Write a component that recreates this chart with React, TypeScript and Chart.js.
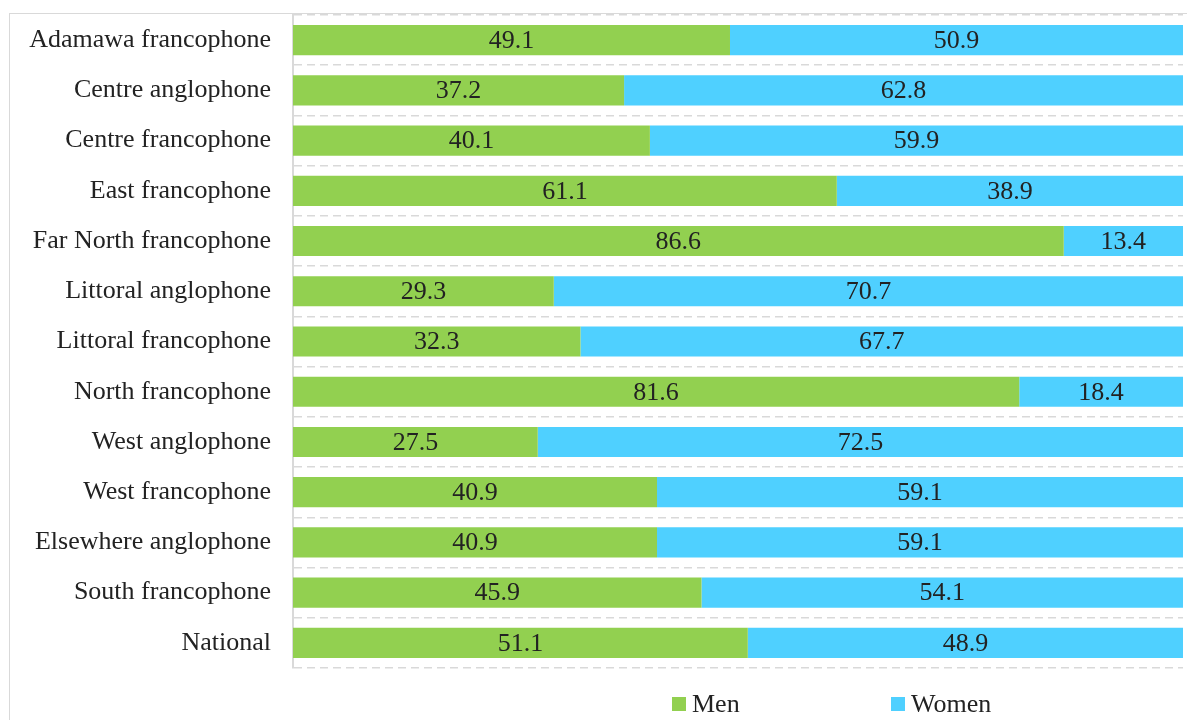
import React, { useEffect, useRef } from "react";
import { Chart, registerables } from "chart.js";

Chart.register(...registerables);

const categories = [
  "Adamawa francophone",
  "Centre anglophone",
  "Centre francophone",
  "East francophone",
  "Far North francophone",
  "Littoral anglophone",
  "Littoral francophone",
  "North francophone",
  "West anglophone",
  "West francophone",
  "Elsewhere anglophone",
  "South francophone",
  "National",
];

const menValues = [49.1, 37.2, 40.1, 61.1, 86.6, 29.3, 32.3, 81.6, 27.5, 40.9, 40.9, 45.9, 51.1];
const womenValues = [50.9, 62.8, 59.9, 38.9, 13.4, 70.7, 67.7, 18.4, 72.5, 59.1, 59.1, 54.1, 48.9];

const seriesNames = ["Men", "Women"];
const seriesColors = ["#92D050", "#4FD0FF"];

const FONT = '"Liberation Serif", "Times New Roman", serif';
const TEXT_COLOR = "#222222";

const valueLabelsPlugin = {
  id: "valueLabels",
  afterDatasetsDraw(chart: any) {
    const ctx = chart.ctx;
    ctx.save();
    ctx.font = `26px ${FONT}`;
    ctx.fillStyle = TEXT_COLOR;
    ctx.textAlign = "center";
    ctx.textBaseline = "middle";
    chart.data.datasets.forEach((ds: any, di: number) => {
      const meta = chart.getDatasetMeta(di);
      meta.data.forEach((bar: any, i: number) => {
        const v = ds.data[i];
        const x = (bar.x + bar.base) / 2;
        ctx.fillText(Number(v).toFixed(1), x, bar.y + 1);
      });
    });
    ctx.restore();
  },
};

const customLegendPlugin = {
  id: "customLegend",
  afterDraw(chart: any) {
    const ctx = chart.ctx;
    const area = chart.chartArea;
    const offsets = [379, 598];
    const y = area.bottom + 36;
    ctx.save();
    ctx.font = `26px ${FONT}`;
    ctx.textBaseline = "middle";
    ctx.textAlign = "left";
    chart.data.datasets.forEach((ds: any, i: number) => {
      const x = area.left + offsets[i];
      ctx.fillStyle = ds.backgroundColor;
      ctx.fillRect(x, y - 7, 14, 14);
      ctx.fillStyle = TEXT_COLOR;
      ctx.fillText(ds.label, x + 20, y + 1);
    });
    ctx.restore();
  },
};

function BarChart() {
  const canvasRef = useRef<HTMLCanvasElement | null>(null);

  useEffect(() => {
    if (!canvasRef.current) return;
    const chart = new Chart(canvasRef.current, {
      type: "bar",
      data: {
        labels: categories,
        datasets: [
          {
            label: seriesNames[0],
            data: menValues,
            backgroundColor: seriesColors[0],
            borderWidth: 0,
            barPercentage: 0.6,
            categoryPercentage: 1,
          },
          {
            label: seriesNames[1],
            data: womenValues,
            backgroundColor: seriesColors[1],
            borderWidth: 0,
            barPercentage: 0.6,
            categoryPercentage: 1,
          },
        ],
      },
      options: {
        indexAxis: "y",
        animation: false,
        responsive: false,
        maintainAspectRatio: false,
        layout: { padding: { left: 0, right: 4, top: 1, bottom: 52 } },
        plugins: {
          legend: { display: false },
          tooltip: { enabled: false },
        },
        scales: {
          x: {
            stacked: true,
            min: 0,
            max: 100,
            display: false,
          },
          y: {
            stacked: true,
            afterFit(scale: any) {
              scale.width = 283;
              scale.paddingTop = 0;
              scale.paddingBottom = 0;
            },
            grid: {
              offset: true,
              drawTicks: false,
              color: "#D9D9D9",
              lineWidth: 1.5,
            },
            border: {
              display: true,
              color: "#D9D9D9",
              width: 2,
              dash: [8, 5],
            },
            ticks: {
              padding: 22,
              color: TEXT_COLOR,
              font: { family: FONT, size: 26 },
            },
          },
        },
      },
      plugins: [valueLabelsPlugin, customLegendPlugin],
    });
    return () => chart.destroy();
  }, []);

  return (
    <canvas
      ref={canvasRef}
      width={1177}
      height={706}
      style={{ position: "absolute", left: 0, top: 0, width: 1177, height: 706 }}
    />
  );
}

export default function App() {
  return (
    <div
      style={{
        position: "absolute",
        left: 9,
        top: 13,
        width: 1200,
        height: 720,
        border: "1px solid #D9D9D9",
        background: "#FFFFFF",
        boxSizing: "content-box",
      }}
    >
      <BarChart />
    </div>
  );
}
